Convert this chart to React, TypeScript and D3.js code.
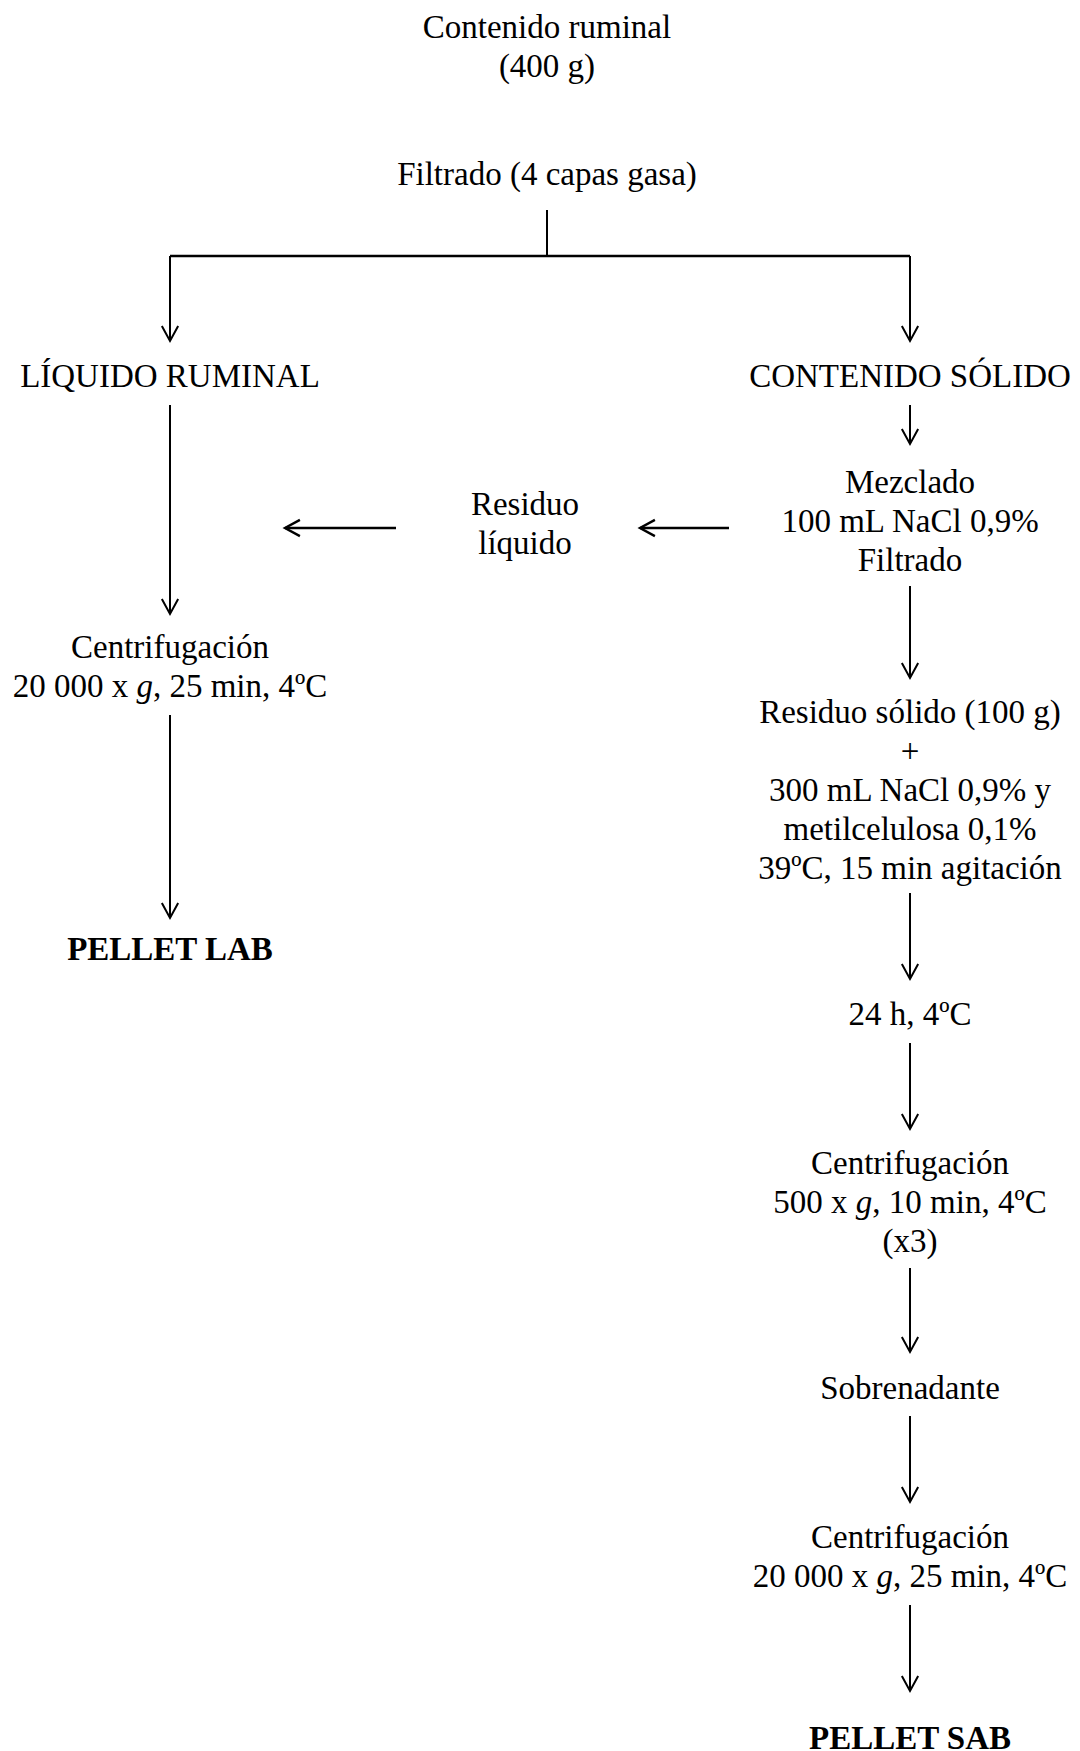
import * as d3 from "d3";

// Text of every step, line by line. A line made of parts can carry italic pieces.
type Part = { t: string; i?: boolean };
type Line = string | Part[];

const topLabel: Line[] = ["Contenido ruminal", "(400 g)"];
const filterLabel: Line[] = ["Filtrado (4 capas gasa)"];
const liquidLabel: Line[] = ["LÍQUIDO RUMINAL"];
const solidLabel: Line[] = ["CONTENIDO SÓLIDO"];
const mixLabel: Line[] = ["Mezclado", "100 mL NaCl 0,9%", "Filtrado"];
const residueLiquidLabel: Line[] = ["Residuo", "líquido"];
const centLeftLabel: Line[] = [
  "Centrifugación",
  [{ t: "20 000 x " }, { t: "g", i: true }, { t: ", 25 min, 4ºC" }],
];
const pelletLabLabel: Line[] = ["PELLET LAB"];
const residueSolidLabel: Line[] = [
  "Residuo sólido (100 g)",
  "+",
  "300 mL NaCl 0,9% y",
  "metilcelulosa 0,1%",
  "39ºC, 15 min agitación",
];
const coldLabel: Line[] = ["24 h, 4ºC"];
const centSlowLabel: Line[] = [
  "Centrifugación",
  [{ t: "500 x " }, { t: "g", i: true }, { t: ", 10 min, 4ºC" }],
  "(x3)",
];
const superLabel: Line[] = ["Sobrenadante"];
const centFastLabel: Line[] = [
  "Centrifugación",
  [{ t: "20 000 x " }, { t: "g", i: true }, { t: ", 25 min, 4ºC" }],
];
const pelletSabLabel: Line[] = ["PELLET SAB"];

// Columns of the diagram
const columns = ["left", "middle", "center", "right"];
const x = d3.scaleOrdinal<string, number>().domain(columns).range([170, 525, 547, 910]);
const y = d3.scaleLinear().domain([0, 1751]).range([0, 1751]);

const LINE = 39;
const FONT = 33;

const nodes: { lines: Line[]; col: string; cy: number; bold?: boolean }[] = [
  { lines: topLabel, col: "center", cy: 46 },
  { lines: filterLabel, col: "center", cy: 173 },
  { lines: liquidLabel, col: "left", cy: 375 },
  { lines: solidLabel, col: "right", cy: 375 },
  { lines: mixLabel, col: "right", cy: 520 },
  { lines: residueLiquidLabel, col: "middle", cy: 523 },
  { lines: centLeftLabel, col: "left", cy: 666 },
  { lines: pelletLabLabel, col: "left", cy: 948, bold: true },
  { lines: residueSolidLabel, col: "right", cy: 789 },
  { lines: coldLabel, col: "right", cy: 1013 },
  { lines: centSlowLabel, col: "right", cy: 1201 },
  { lines: superLabel, col: "right", cy: 1387 },
  { lines: centFastLabel, col: "right", cy: 1556 },
  { lines: pelletSabLabel, col: "right", cy: 1737, bold: true },
];

// Connectors; head marks an open arrowhead at the end point
const arrows: { x1: number; y1: number; x2: number; y2: number; head: boolean; w?: number }[] = [
  { x1: x("center"), y1: 210, x2: x("center"), y2: 256, head: false },
  { x1: x("left"), y1: 256, x2: x("right"), y2: 256, head: false, w: 2.6 },
  { x1: x("left"), y1: 256, x2: x("left"), y2: 341, head: true },
  { x1: x("right"), y1: 256, x2: x("right"), y2: 341, head: true },
  { x1: x("left"), y1: 405, x2: x("left"), y2: 614, head: true },
  { x1: x("right"), y1: 405, x2: x("right"), y2: 444, head: true },
  { x1: 729, y1: 528, x2: 640, y2: 528, head: true, w: 2.4 },
  { x1: 396, y1: 528, x2: 285, y2: 528, head: true, w: 2.4 },
  { x1: x("left"), y1: 715, x2: x("left"), y2: 918, head: true },
  { x1: x("right"), y1: 586, x2: x("right"), y2: 678, head: true },
  { x1: x("right"), y1: 893, x2: x("right"), y2: 979, head: true },
  { x1: x("right"), y1: 1043, x2: x("right"), y2: 1129, head: true },
  { x1: x("right"), y1: 1268, x2: x("right"), y2: 1352, head: true },
  { x1: x("right"), y1: 1416, x2: x("right"), y2: 1502, head: true },
  { x1: x("right"), y1: 1605, x2: x("right"), y2: 1691, head: true },
];

function headPath(a: { x1: number; y1: number; x2: number; y2: number }) {
  const ang = Math.atan2(a.y2 - a.y1, a.x2 - a.x1);
  const len = 17;
  const spread = 0.5;
  const p = d3.path();
  p.moveTo(a.x2 - len * Math.cos(ang - spread), a.y2 - len * Math.sin(ang - spread));
  p.lineTo(a.x2, a.y2);
  p.lineTo(a.x2 - len * Math.cos(ang + spread), a.y2 - len * Math.sin(ang + spread));
  return p.toString();
}

function renderLine(line: Line) {
  if (typeof line === "string") return line;
  return line.map((p, k) => (
    <tspan key={k} fontStyle={p.i ? "italic" : undefined}>
      {p.t}
    </tspan>
  ));
}

export default function App() {
  return (
    <svg
      width={1080}
      height={1751}
      style={{ position: "absolute", left: 0, top: 0, background: "#fff" }}
      fontFamily="'Liberation Serif', 'Times New Roman', serif"
      fontSize={FONT}
    >
      <rect width={1080} height={1751} fill="#fff" />
      {arrows.map((a, i) => (
        <g key={i} stroke="#000" strokeWidth={a.w ?? 2} fill="none">
          <line x1={a.x1} y1={y(a.y1)} x2={a.x2} y2={y(a.y2)} />
          {a.head ? (
            <path d={headPath({ x1: a.x1, y1: y(a.y1), x2: a.x2, y2: y(a.y2) })} strokeLinejoin="miter" />
          ) : null}
        </g>
      ))}
      {nodes.map((n, i) => {
        const top = n.cy - ((n.lines.length - 1) * LINE) / 2;
        return (
          <text key={i} textAnchor="middle" fill="#000" fontWeight={n.bold ? "bold" : "normal"}>
            {n.lines.map((line, k) => (
              <tspan key={k} x={x(n.col)} y={y(top + k * LINE)} dy="0.35em">
                {renderLine(line)}
              </tspan>
            ))}
          </text>
        );
      })}
    </svg>
  );
}
